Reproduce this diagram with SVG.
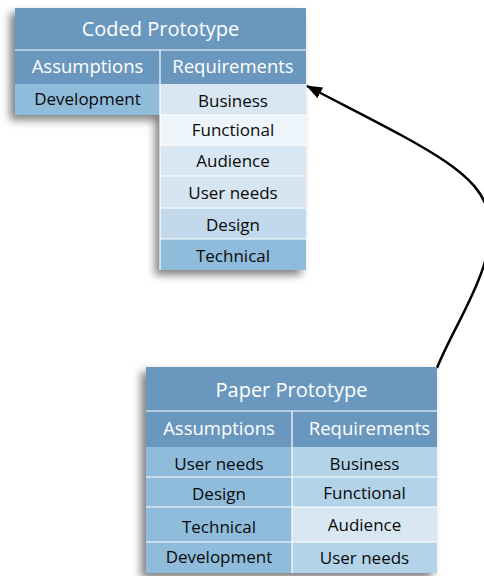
<svg xmlns="http://www.w3.org/2000/svg" width="484" height="576" viewBox="0 0 484 576">
<defs>
<filter id="sh" x="-10%" y="-10%" width="120%" height="125%">
<feDropShadow dx="-5" dy="5" stdDeviation="4" flood-color="#000" flood-opacity="0.5"/>
</filter>
<marker id="ah" markerWidth="16" markerHeight="12" refX="15" refY="6" orient="auto" markerUnits="userSpaceOnUse">
<path d="M0,0 L16,6 L0,12 Z" fill="#000"/>
</marker>
<style>
text{font-family:"Open Sans","Noto Sans",sans-serif;text-anchor:middle;dominant-baseline:central}
.t{fill:#fff;font-size:20px}
.h{fill:#fff;font-size:18.5px}
.c{fill:#0a0a0a;font-size:17px}
.line{stroke:#fff;stroke-width:1.2}
.hd{fill:#6a97be}
.d{fill:#8fbcdb}
.m{fill:#b3d3e8}
.l{fill:#d9e7f2}
</style>
</defs>
<g id="connectors">
<path d="M437,368 C455,322 500,262 488,212 C478,170 420,145 307,86" fill="none" stroke="#000" stroke-width="2.5" marker-end="url(#ah)"/>
</g>
<g id="coded-prototype">
<g filter="url(#sh)">
<rect x="15" y="8" width="291" height="107" fill="#6a97be"/>
<rect x="160" y="84" width="146" height="186" fill="#d9e7f2"/>
</g>
<rect x="15" y="8" width="291" height="42" class="hd"/>
<rect x="15" y="50" width="291" height="34" class="hd"/>
<rect x="15" y="84" width="145" height="31" class="d"/>
<rect x="160" y="84" width="146" height="31" class="l"/>
<rect x="160" y="115" width="146" height="30" fill="#eef5fa"/>
<rect x="160" y="145" width="146" height="31" class="l"/>
<rect x="160" y="176" width="146" height="32" fill="#d6e5f1"/>
<rect x="160" y="208" width="146" height="31" fill="#c2d9eb"/>
<rect x="160" y="239" width="146" height="31" class="d"/>
<path class="line" d="M15,50 H306 M160,50 V270 M160,115 H306 M160,145 H306 M160,176 H306 M160,208 H306 M160,239 H306"/>
<text class="t" x="160.5" y="28">Coded Prototype</text>
<text class="h" x="87.5" y="65">Assumptions</text>
<text class="h" x="233" y="65">Requirements</text>
<text class="c" x="87.5" y="98">Development</text>
<text class="c" x="233" y="100">Business</text>
<text class="c" x="233" y="129">Functional</text>
<text class="c" x="233" y="160">Audience</text>
<text class="c" x="233" y="192">User needs</text>
<text class="c" x="233" y="224">Design</text>
<text class="c" x="233" y="255">Technical</text>
</g>
<g id="paper-prototype">
<rect x="146" y="367" width="291" height="206" fill="#6a97be" filter="url(#sh)"/>
<rect x="146" y="367" width="291" height="44" class="hd"/>
<rect x="146" y="411" width="291" height="36" class="hd"/>
<rect x="146" y="447" width="146" height="126" class="d"/>
<rect x="292" y="447" width="145" height="30" class="m"/>
<rect x="292" y="477" width="145" height="30" class="m"/>
<rect x="292" y="507" width="145" height="35" class="l"/>
<rect x="292" y="542" width="145" height="31" class="m"/>
<path class="line" d="M146,411 H437 M292,411 V573 M146,477 H437 M146,507 H437 M146,542 H437"/>
<text class="t" x="291.5" y="389">Paper Prototype</text>
<text class="h" x="219" y="427">Assumptions</text>
<text class="h" x="369.5" y="427">Requirements</text>
<text class="c" x="219" y="463">User needs</text>
<text class="c" x="219" y="493">Design</text>
<text class="c" x="219" y="526">Technical</text>
<text class="c" x="219" y="556">Development</text>
<text class="c" x="364.5" y="463">Business</text>
<text class="c" x="364.5" y="492">Functional</text>
<text class="c" x="364.5" y="524">Audience</text>
<text class="c" x="364.5" y="557">User needs</text>
</g>
</svg>
